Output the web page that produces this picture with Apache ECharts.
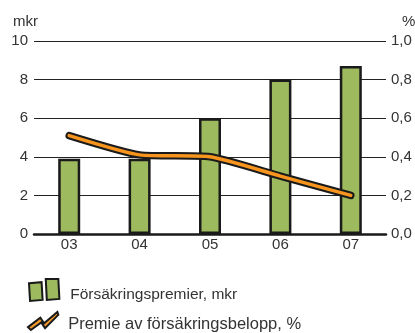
<!DOCTYPE html>
<html>
<head>
<meta charset="utf-8">
<script src="https://cdn.jsdelivr.net/npm/echarts@6/dist/echarts.min.js"></script>
<style>
  html, body { margin: 0; padding: 0; background: #fff; }
  #chart { width: 415px; height: 333px; }
</style>
</head>
<body>
<div id="chart"></div>
<script>
// Years on the category axis
const years = ['03', '04', '05', '06', '07'];
// Premiums written, mkr (left axis)
const premier = [3.9, 3.9, 6.0, 8.0, 8.7];
// Premium as share of insured amount, % (right axis)
const premieAndel = [0.51, 0.41, 0.40, 0.30, 0.20];
// Axis tick values
const leftTicks = [0, 2, 4, 6, 8, 10];
const rightTicks = [0, 0.2, 0.4, 0.6, 0.8, 1.0];
// Axis unit captions
const leftUnit = 'mkr';
const rightUnit = '%';

const FONT = '"Liberation Sans", Arial, sans-serif';
const TEXT = '#333';
const barName = 'Försäkringspremier, mkr';
const lineName = 'Premie av försäkringsbelopp, %';

const chart = echarts.init(document.getElementById('chart'), null, { renderer: 'canvas' });

// legend label nudged below the icon's centre line and away from the icon
const legendLabel = (size, drop, gap) => ({
  fontFamily: FONT, fontSize: size, color: TEXT,
  rich: { t: { fontFamily: FONT, fontSize: size, color: TEXT, padding: [drop * 2, 0, 0, gap] } }
});

chart.setOption({
  animation: false,
  textStyle: { fontFamily: FONT },
  grid: { left: 34, right: 29, top: 41, bottom: 99 },
  graphic: [
    { type: 'text', left: 13, top: 14,
      style: { text: leftUnit, fill: TEXT, font: '15px ' + FONT } },
    { type: 'text', left: 402, top: 14,
      style: { text: rightUnit, fill: TEXT, font: '15px ' + FONT } }
  ],
  legend: [
    {
      left: 28, top: 278, padding: 0,
      itemWidth: 32, itemHeight: 22,
      formatter: n => '{t|' + n + '}',
      textStyle: legendLabel(15.5, 5, 5),
      data: [{
        name: barName,
        icon: 'path://M2,5 L14,4 L15,21 L3,22 Z M18,1 L30,1 L31,20 L19,21 Z',
        itemStyle: { color: '#9dbb5e', borderColor: '#1a1a1a', borderWidth: 2 }
      }]
    },
    {
      left: 27, top: 311, padding: 0,
      itemWidth: 34, itemHeight: 18,
      formatter: n => '{t|' + n + '}',
      textStyle: legendLabel(16.5, 3, 3),
      data: [{
        name: lineName,
        icon: 'path://M1,18 L14,8 L18,14 L32,2 L33,5 L19,19 L15,13 L4,21 Z',
        itemStyle: { color: '#f39a2b', borderColor: '#1a1a1a', borderWidth: 2 }
      }]
    }
  ],
  xAxis: {
    type: 'category',
    data: years,
    axisLine: { show: true, lineStyle: { color: '#1a1a1a', width: 2.5 } },
    axisTick: { show: false },
    axisLabel: { color: TEXT, fontSize: 15, margin: 3, fontFamily: FONT }
  },
  yAxis: [
    {
      type: 'value',
      min: 0, max: 10, interval: 2,
      axisLine: { show: false },
      axisTick: { show: false },
      axisLabel: { color: TEXT, fontSize: 15, margin: 6, fontFamily: FONT,
        formatter: v => leftTicks.includes(v) ? String(v) : '' },
      splitLine: { show: true, lineStyle: { color: '#222', width: 1 } }
    },
    {
      type: 'value',
      min: 0, max: 1, interval: 0.2,
      axisLine: { show: false },
      axisTick: { show: false },
      axisLabel: { color: TEXT, fontSize: 15, margin: 5, fontFamily: FONT,
        formatter: v => {
          const t = rightTicks.find(r => Math.abs(r - v) < 1e-9);
          return t === undefined ? '' : t.toFixed(1).replace('.', ',');
        } },
      splitLine: { show: false }
    }
  ],
  series: [
    {
      name: barName,
      type: 'bar',
      data: premier,
      barWidth: 22,
      itemStyle: { color: '#9dbb5e', borderColor: '#1a1a1a', borderWidth: 2.5 },
      z: 2
    },
    {
      // dark outline beneath the orange line
      name: lineName,
      type: 'line',
      yAxisIndex: 1,
      data: premieAndel,
      symbol: 'none',
      smooth: 0.2,
      lineStyle: { color: '#1a1a1a', width: 7.5, cap: 'round', join: 'round' },
      itemStyle: { color: '#f39a2b' },
      z: 3
    },
    {
      name: lineName,
      type: 'line',
      yAxisIndex: 1,
      data: premieAndel,
      symbol: 'none',
      smooth: 0.2,
      lineStyle: { color: '#f7941d', width: 3.5, cap: 'round', join: 'round' },
      itemStyle: { color: '#f39a2b' },
      z: 4
    }
  ]
});
</script>
</body>
</html>
